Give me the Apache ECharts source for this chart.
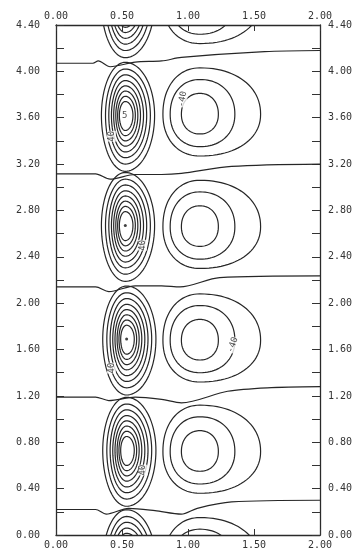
<!DOCTYPE html>
<html>
<head>
<meta charset="utf-8">
<script src="https://cdn.jsdelivr.net/npm/echarts@6/dist/echarts.min.js"></script>
<style>
  html, body { margin: 0; padding: 0; background: #fff; }
  #chart { width: 362px; height: 551px; }
</style>
</head>
<body>
<div id="chart"></div>
<script>
// Narrow cells near x = 0.5: centres and ring extents (offsets from the centre)
const leftCellCenters = [[0.535, -0.24], [0.535, 0.73], [0.535, 1.69], [0.525, 2.67], [0.525, 3.62], [0.525, 4.60]];
const leftRingWest = [0.181, 0.150, 0.125, 0.105, 0.088, 0.072, 0.058, 0.045];
const leftRingEast = [0.222, 0.190, 0.162, 0.138, 0.115, 0.095, 0.076, 0.058];
const leftRingUp   = [0.458, 0.400, 0.350, 0.300, 0.255, 0.210, 0.165, 0.120];
const leftRingDown = [0.482, 0.420, 0.365, 0.315, 0.265, 0.220, 0.175, 0.130];

// Broad cells near x = 1.1
const rightCellCenters = [[1.09, -0.25], [1.09, 0.72], [1.09, 1.68], [1.09, 2.66], [1.09, 3.63], [1.09, 4.60]];
const rightRingWest = [0.280, 0.225, 0.140];
const rightRingEast = [0.460, 0.265, 0.140];
const rightRingUp   = [0.400, 0.300, 0.180];
const rightRingDown = [0.360, 0.280, 0.170];

// Zero contours running across the panel
const zeroLine1 = [[0, 0.22], [0.30, 0.22], [0.38, 0.18], [0.55, 0.23], [0.75, 0.21], [0.95, 0.18], [1.07, 0.23], [1.33, 0.285], [2.0, 0.30]];
const zeroLine2 = [[0, 1.19], [0.30, 1.19], [0.40, 1.16], [0.60, 1.19], [0.80, 1.17], [0.95, 1.14], [1.30, 1.24], [1.60, 1.27], [2.0, 1.28]];
const zeroLine3 = [[0, 2.14], [0.30, 2.14], [0.40, 2.10], [0.60, 2.15], [0.80, 2.15], [0.94, 2.14], [1.24, 2.22], [2.0, 2.235]];
const zeroLine4 = [[0, 3.115], [0.30, 3.115], [0.41, 3.07], [0.60, 3.11], [0.80, 3.11], [0.95, 3.12], [1.33, 3.18], [2.0, 3.20]];
const zeroLine5 = [[0, 4.07], [0.28, 4.07], [0.32, 4.09], [0.41, 4.04], [0.60, 4.08], [0.80, 4.09], [0.95, 4.12], [1.58, 4.17], [2.0, 4.18]];

// Contour annotations: x, y, text, rotation
const contourLabels = [
  [0.96, 3.76, '-40', 80],
  [1.34, 1.64, '-40', 70],
  [0.655, 2.50, '40', 90],
  [0.66, 0.56, '40', 90],
  [0.42, 1.44, '40', 90],
  [0.42, 3.44, '40', 90],
  [0.52, 3.62, '5', 0]
];
const centreDots = [[0.525, 2.67], [0.535, 1.69]];

const xMin = 0, xMax = 2.0, xStep = 0.5;
const yMin = 0, yMax = 4.4, yStep = 0.2;

function ringItems(centers, west, east, up, down, power) {
  const items = [];
  centers.forEach(c => {
    for (let i = 0; i < west.length; i++) {
      items.push([c[0], c[1], c[0] - west[i], c[0] + east[i], c[1] + up[i], c[1] - down[i], power]);
    }
  });
  return items;
}

function renderRing(params, api) {
  const cx = api.value(0), cy = api.value(1);
  const xl = api.value(2), xr = api.value(3), yt = api.value(4), yb = api.value(5);
  const p = api.value(6);
  const pts = [];
  const n = 96;
  for (let k = 0; k < n; k++) {
    const t = (k / n) * Math.PI * 2;
    const c = Math.cos(t), s = Math.sin(t);
    const ec = Math.sign(c) * Math.pow(Math.abs(c), 2 / p);
    const es = Math.sign(s) * Math.pow(Math.abs(s), 2 / p);
    const x = cx + ec * (c >= 0 ? xr - cx : cx - xl);
    const y = cy + es * (s >= 0 ? yt - cy : cy - yb);
    pts.push(api.coord([x, y]));
  }
  return {
    type: 'polygon',
    shape: { points: pts, smooth: 0 },
    style: { fill: 'none', stroke: '#262626', lineWidth: 1.2 }
  };
}

const ringData = ringItems(leftCellCenters, leftRingWest, leftRingEast, leftRingUp, leftRingDown, 2.0)
  .concat(ringItems(rightCellCenters, rightRingWest, rightRingEast, rightRingUp, rightRingDown, 2.15));

const labelFont = 'DejaVu Sans Mono';
const axisCommon = {
  type: 'value',
  axisLine: { show: true, onZero: false, lineStyle: { color: '#2a2a2a', width: 1.3 } },
  splitLine: { show: false },
  axisLabel: { fontFamily: labelFont, fontSize: 10, color: '#333' }
};

function fmtX(v) { return v.toFixed(2); }
function fmtY(v) { return Math.round(v * 10) % 4 === 0 ? v.toFixed(2) : ''; }

const zeroStyle = { color: '#262626', width: 1.2 };
function zeroSeries(data) {
  return { type: 'line', data: data, smooth: 0.3, symbol: 'none', lineStyle: zeroStyle, silent: true, animation: false, xAxisIndex: 0, yAxisIndex: 0 };
}

const chart = echarts.init(document.getElementById('chart'), null, { renderer: 'canvas' });
chart.setOption({
  backgroundColor: '#ffffff',
  animation: false,
  grid: { left: 56, right: 42, top: 25, bottom: 16 },
  xAxis: [
    Object.assign({}, axisCommon, {
      min: xMin, max: xMax, interval: xStep, position: 'bottom',
      axisTick: { show: true, inside: true, length: 6, lineStyle: { color: '#333' } },
      axisLabel: Object.assign({}, axisCommon.axisLabel, { formatter: fmtX, margin: 5 })
    }),
    Object.assign({}, axisCommon, {
      min: xMin, max: xMax, interval: xStep, position: 'top',
      axisTick: { show: true, inside: true, length: 6, lineStyle: { color: '#333' } },
      axisLabel: Object.assign({}, axisCommon.axisLabel, { formatter: fmtX, margin: 4 })
    })
  ],
  yAxis: [
    Object.assign({}, axisCommon, {
      min: yMin, max: yMax, interval: yStep, position: 'left',
      axisTick: { show: true, inside: true, length: 8, lineStyle: { color: '#333' } },
      axisLabel: Object.assign({}, axisCommon.axisLabel, { formatter: fmtY, margin: 16 })
    }),
    Object.assign({}, axisCommon, {
      min: yMin, max: yMax, interval: yStep, position: 'right',
      axisTick: { show: true, inside: true, length: 8, lineStyle: { color: '#333' } },
      axisLabel: Object.assign({}, axisCommon.axisLabel, { formatter: fmtY, margin: 8 })
    })
  ],
  series: [
    {
      type: 'custom',
      renderItem: renderRing,
      data: ringData,
      clip: true,
      silent: true,
      xAxisIndex: 0, yAxisIndex: 0,
      encode: { x: [0, 2, 3], y: [1, 4, 5] }
    },
    zeroSeries(zeroLine1),
    zeroSeries(zeroLine2),
    zeroSeries(zeroLine3),
    zeroSeries(zeroLine4),
    zeroSeries(zeroLine5),
    {
      type: 'scatter',
      data: centreDots,
      symbolSize: 3,
      itemStyle: { color: '#111' },
      silent: true
    },
    {
      type: 'scatter',
      data: contourLabels.map(d => ({
        value: [d[0], d[1]],
        label: { show: true, formatter: d[2], rotate: d[3] }
      })),
      symbolSize: 0,
      label: { position: 'inside', fontFamily: labelFont, fontSize: 9, color: '#222', backgroundColor: '#fff' },
      silent: true
    }
  ]
});
</script>
</body>
</html>
